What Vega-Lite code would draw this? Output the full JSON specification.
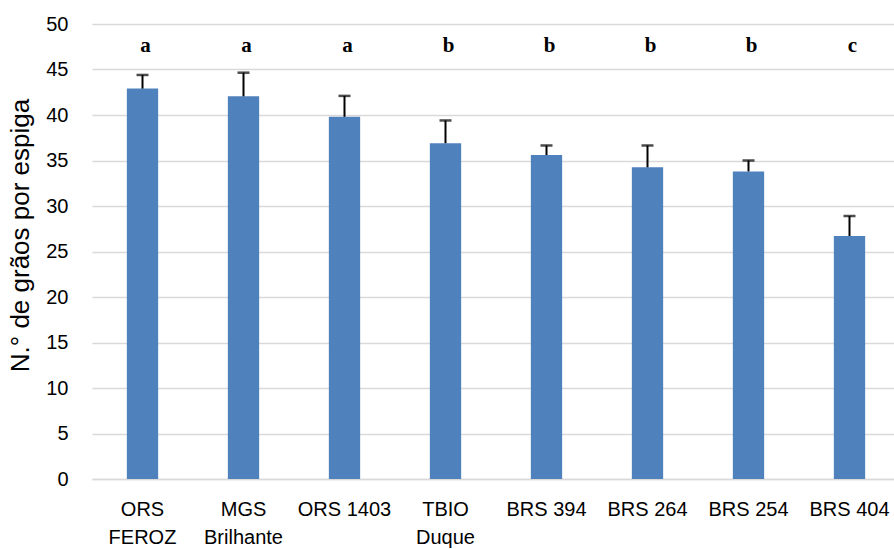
{
  "$schema": "https://vega.github.io/schema/vega-lite/v6.json",
  "autosize": "none",
  "width": 808,
  "height": 455,
  "padding": {"left": 92, "top": 24, "right": 0, "bottom": 70},
  "background": "white",
  "data": {
    "values": [
      {"cultivar": "ORS FEROZ", "graos": 42.9, "erro": 44.4, "letra": "a"},
      {"cultivar": "MGS Brilhante", "graos": 42.05, "erro": 44.65, "letra": "a"},
      {"cultivar": "ORS 1403", "graos": 39.8, "erro": 42.1, "letra": "a"},
      {"cultivar": "TBIO Duque", "graos": 36.9, "erro": 39.4, "letra": "b"},
      {"cultivar": "BRS 394", "graos": 35.6, "erro": 36.65, "letra": "b"},
      {"cultivar": "BRS 264", "graos": 34.25, "erro": 36.65, "letra": "b"},
      {"cultivar": "BRS 254", "graos": 33.8, "erro": 35.0, "letra": "b"},
      {"cultivar": "BRS 404", "graos": 26.7, "erro": 28.9, "letra": "c"}
    ]
  },
  "config": {
    "view": {"stroke": null},
    "font": "Liberation Sans"
  },
  "encoding": {
    "x": {
      "field": "cultivar",
      "type": "nominal",
      "sort": null,
      "scale": {"paddingInner": 0, "paddingOuter": 0},
      "axis": {
        "title": null,
        "labelAngle": 0,
        "labelFont": "Liberation Sans",
        "labelFontSize": 20,
        "labelColor": "#000000",
        "labelPadding": 20,
        "labelLineHeight": 28,
        "labelBaseline": "top",
        "ticks": false,
        "domain": true,
        "domainColor": "#d9d9d9",
        "domainWidth": 1.5,
        "grid": false,
        "labelExpr": "indexof(['ORS FEROZ','MGS Brilhante','TBIO Duque'], datum.value) >= 0 ? split(datum.value, ' ') : datum.value"
      }
    }
  },
  "layer": [
    {
      "mark": {"type": "bar", "width": {"band": 0.31}, "color": "#4f81bd"},
      "encoding": {
        "y": {
          "field": "graos",
          "type": "quantitative",
          "scale": {"domain": [0, 50], "nice": false},
          "axis": {
            "title": "N.° de grãos por espiga",
            "titleFont": "Liberation Sans",
            "titleFontSize": 26,
            "titleFontWeight": "normal",
            "titleColor": "#000000",
            "titleBaseline": "alphabetic",
            "titleX": -64,
            "titleY": 211,
            "values": [0, 5, 10, 15, 20, 25, 30, 35, 40, 45, 50],
            "labelFont": "Liberation Sans",
            "labelFontSize": 20,
            "labelColor": "#000000",
            "labelPadding": 24,
            "ticks": false,
            "domain": false,
            "grid": true,
            "gridColor": "#d9d9d9",
            "gridWidth": 1.5
          }
        }
      }
    },
    {
      "mark": {"type": "rule", "color": "#000000", "strokeWidth": 2},
      "encoding": {
        "y": {"field": "graos", "type": "quantitative"},
        "y2": {"field": "erro"}
      }
    },
    {
      "mark": {"type": "tick", "color": "#000000", "size": 12, "thickness": 2.5},
      "encoding": {
        "y": {"field": "erro", "type": "quantitative"}
      }
    },
    {
      "mark": {"type": "text", "font": "Liberation Serif", "fontWeight": "bold", "fontSize": 21, "baseline": "middle", "color": "#000000", "dx": 3},
      "encoding": {
        "y": {"datum": 47.6, "type": "quantitative"},
        "text": {"field": "letra"}
      }
    }
  ]
}
